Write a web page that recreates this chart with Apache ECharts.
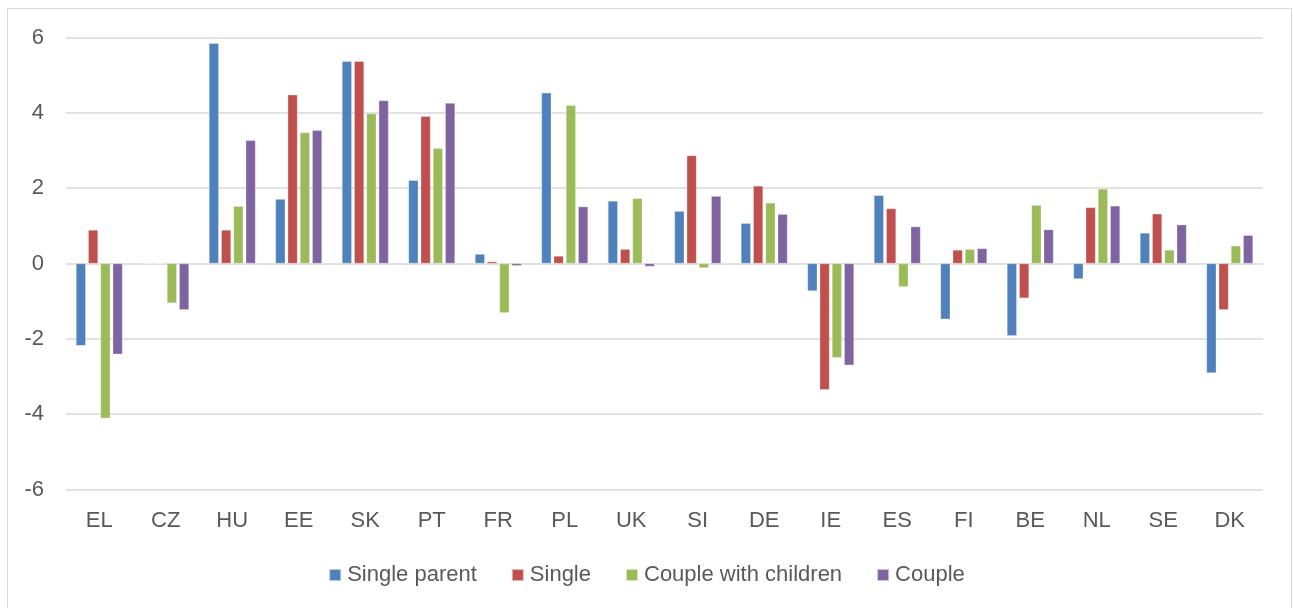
<!DOCTYPE html>
<html>
<head>
<meta charset="utf-8">
<script src="https://cdn.jsdelivr.net/npm/echarts@6/dist/echarts.min.js"></script>
<style>
  html, body { margin: 0; padding: 0; background: #fff; }
  #chart { width: 1293px; height: 608px; }
</style>
</head>
<body>
<div id="chart"></div>
<script>
// Countries along the horizontal axis
const countries = ['EL', 'CZ', 'HU', 'EE', 'SK', 'PT', 'FR', 'PL', 'UK', 'SI', 'DE', 'IE', 'ES', 'FI', 'BE', 'NL', 'SE', 'DK'];

// Values per household type
const singleParent       = [-2.18, 0, 5.85, 1.71, 5.37, 2.21, 0.25, 4.53, 1.66, 1.39, 1.07, -0.73, 1.81, -1.48, -1.92, -0.41, 0.81, -2.91];
const single             = [0.89, 0, 0.89, 4.48, 5.37, 3.91, 0.05, 0.20, 0.38, 2.87, 2.06, -3.35, 1.46, 0.36, -0.92, 1.49, 1.32, -1.23];
const coupleWithChildren = [-4.11, -1.05, 1.52, 3.48, 3.98, 3.06, -1.31, 4.20, 1.73, -0.12, 1.61, -2.50, -0.62, 0.38, 1.55, 1.98, 0.36, 0.47];
const couple             = [-2.41, -1.23, 3.27, 3.54, 4.33, 4.26, -0.06, 1.51, -0.08, 1.79, 1.31, -2.70, 0.98, 0.40, 0.90, 1.53, 1.03, 0.75];

const seriesNames = ['Single parent', 'Single', 'Couple with children', 'Couple'];
const seriesData = [singleParent, single, coupleWithChildren, couple];
const colors = ['#4F81BD', '#C0504D', '#9BBB59', '#8064A2'];

const FONT = "'Liberation Sans', Arial, sans-serif";
const TEXT = '#595959';

const chart = echarts.init(document.getElementById('chart'), null, { renderer: 'canvas' });

chart.setOption({
  animation: false,
  backgroundColor: '#fff',
  color: colors,
  graphic: [{
    type: 'rect',
    shape: { x: 7.5, y: 8.5, width: 1284, height: 610 },
    style: { fill: 'none', stroke: '#d9d9d9', lineWidth: 1 },
    silent: true,
    z: -1
  }],
  grid: { left: 66, right: 30, top: 37.5, bottom: 118.5, containLabel: false },
  legend: {
    top: 564,
    left: 'center',
    padding: 0,
    itemWidth: 12,
    itemHeight: 12,
    itemGap: 34,
    icon: 'rect',
    textStyle: { color: TEXT, fontSize: 22, fontFamily: FONT, padding: [0, 0, 0, 1] },
    data: seriesNames
  },
  xAxis: {
    type: 'category',
    data: countries,
    axisLine: { show: false },
    axisTick: { show: false },
    axisLabel: { color: TEXT, fontSize: 22, fontFamily: FONT, margin: 20 }
  },
  yAxis: {
    type: 'value',
    min: -6,
    max: 6,
    interval: 2,
    axisLine: { show: false },
    axisTick: { show: false },
    axisLabel: { color: TEXT, fontSize: 22, fontFamily: FONT, margin: 22 },
    splitLine: { lineStyle: { color: '#d9d9d9', width: 1.5 } }
  },
  series: seriesNames.map((name, i) => ({
    name: name,
    type: 'bar',
    data: seriesData[i],
    barGap: '25%',
    barCategoryGap: '30%',
    itemStyle: { color: colors[i], borderColor: 'rgba(255,255,255,0.6)', borderWidth: 0.5 }
  }))
});
</script>
</body>
</html>
